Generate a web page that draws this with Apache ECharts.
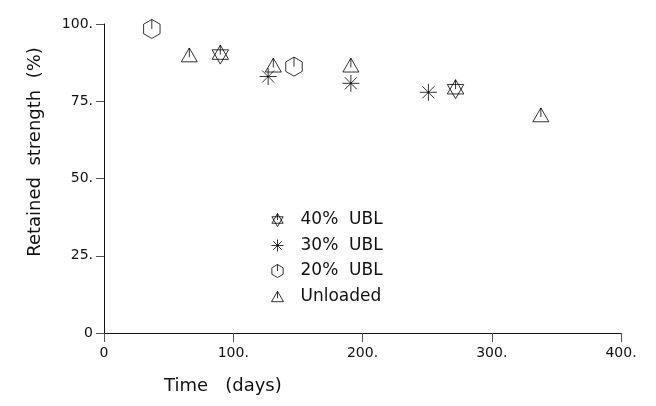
<!DOCTYPE html>
<html>
<head>
<meta charset="utf-8">
<script src="https://cdn.jsdelivr.net/npm/echarts@6/dist/echarts.min.js"></script>
<style>html,body{margin:0;padding:0;background:#fff}#c{width:656px;height:406px}</style>
</head>
<body>
<div id="c"></div>
<script>
// Data (x: days, y: retained strength %)
const ubl40 = [[90, 90.1], [272, 78.9]];
const ubl30 = [[127, 83.0], [191, 80.8], [251, 77.9]];
const ubl20 = [[37, 98.4], [147, 86.2]];
const unloaded = [[66, 90.0], [131, 86.7], [191, 86.7], [338, 70.6]];
const seriesNames = ['40% UBL', '30% UBL', '20% UBL', 'Unloaded'];
const legendLabels = ['40%  UBL', '30%  UBL', '20%  UBL', 'Unloaded'];
const xTicks = [0, 100, 200, 300, 400];
const yTicks = [0, 25, 50, 75, 100];

const SYM = {
  david: 'path://M50 0L93.3 75L6.7 75Z M50 100L93.3 25L6.7 25Z M50 0L50 50',
  star: 'path://M0 50L100 50 M50 0L50 100 M14.6 14.6L85.4 85.4 M85.4 14.6L14.6 85.4',
  hex: 'path://M50 0L93.3 25L93.3 75L50 100L6.7 75L6.7 25Z M50 0L50 50',
  tri: 'path://M50 0L100 86.6L0 86.6Z M50 0L50 57.7'
};
const font = '"DejaVu Sans", Verdana, sans-serif';
const itemStyle = {color: 'none', borderColor: '#000', borderWidth: 1};
function mk(name, data, sym, size) {
  return {name, type: 'scatter', data, symbol: sym, symbolSize: size, symbolKeepAspect: true,
    itemStyle, emphasis: {disabled: true}};
}
const chart = echarts.init(document.getElementById('c'), null, {renderer: 'canvas'});
chart.setOption({
  animation: false,
  backgroundColor: '#fff',
  grid: {left: 104, right: 35, top: 24, bottom: 73, containLabel: false},
  xAxis: {
    type: 'value', min: xTicks[0], max: xTicks[xTicks.length - 1], interval: 100,
    axisLine: {onZero: false, lineStyle: {color: '#111', width: 1}},
    axisTick: {show: true, length: 9, lineStyle: {color: '#555'}},
    splitLine: {show: false},
    axisLabel: {fontFamily: font, fontSize: 14, color: '#111', margin: 13,
      formatter: v => v === 0 ? '0' : v + '.'}
  },
  yAxis: {
    type: 'value', min: yTicks[0], max: yTicks[yTicks.length - 1], interval: 25,
    axisLine: {show: true, onZero: false, lineStyle: {color: '#111', width: 1}},
    axisTick: {show: true, length: 8, lineStyle: {color: '#555'}},
    splitLine: {show: false},
    axisLabel: {fontFamily: font, fontSize: 14, color: '#111', margin: 11,
      formatter: v => v === 0 ? '0' : v + '.'}
  },
  legend: {
    orient: 'vertical', left: 264, top: 206, itemWidth: 12, itemHeight: 13, itemGap: 8,
    itemStyle: {color: 'none', borderColor: '#000', borderWidth: 1},
    textStyle: {fontFamily: font, fontSize: 17, color: '#111', padding: [0, 0, 0, 12]},
    formatter: n => legendLabels[seriesNames.indexOf(n)],
    data: seriesNames, selectedMode: false
  },
  graphic: [
    {type: 'text', left: 164, top: 377, style: {text: 'Time   (days)', font: '18px ' + font, fill: '#111'}},
    {type: 'text', x: 35, y: 152, rotation: Math.PI / 2,
      style: {text: 'Retained  strength  (%)', font: '18px ' + font, fill: '#111', align: 'center', verticalAlign: 'middle'}}
  ],
  series: [
    mk(seriesNames[0], ubl40, SYM.david, 19),
    mk(seriesNames[1], ubl30, SYM.star, 17),
    mk(seriesNames[2], ubl20, SYM.hex, 19),
    mk(seriesNames[3], unloaded, SYM.tri, 16)
  ]
});
</script>
</body>
</html>
